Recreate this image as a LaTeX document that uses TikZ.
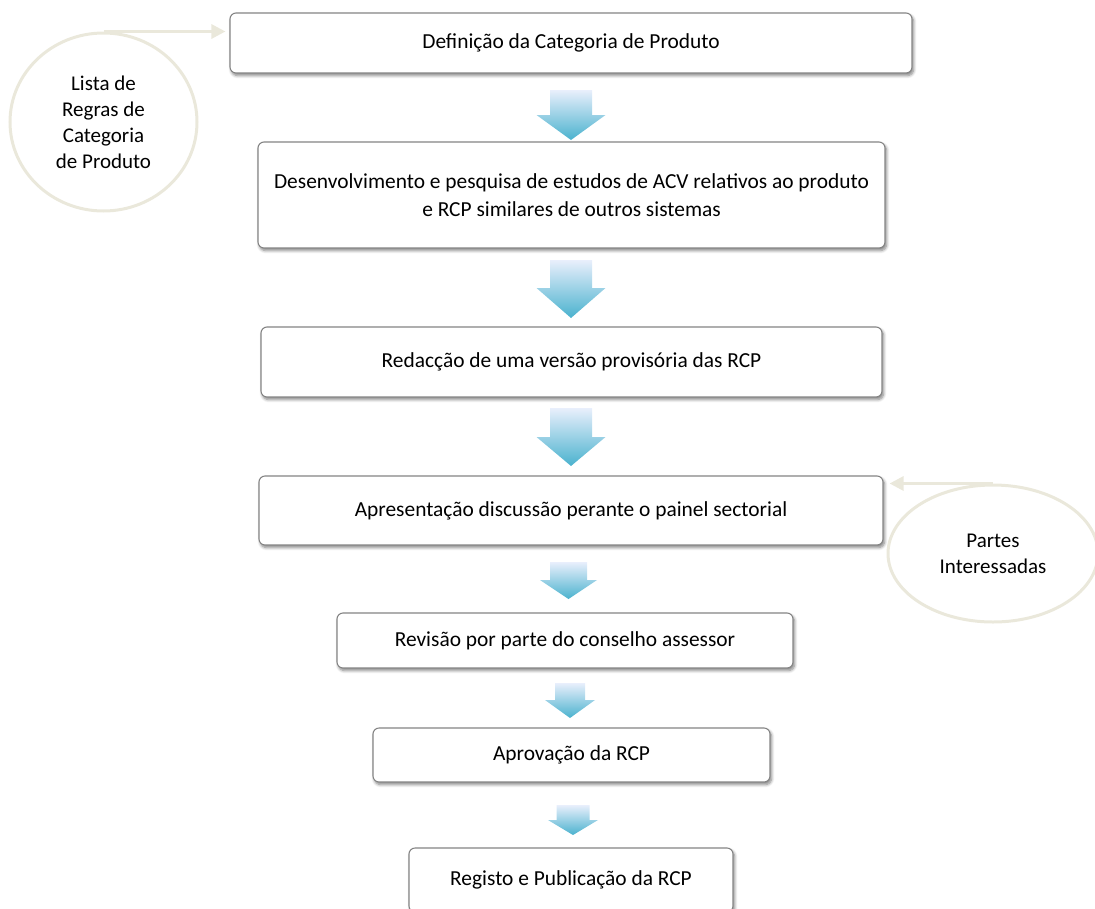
\documentclass[tikz,border=0pt]{standalone}
\usepackage{fontspec}
\setmainfont{Carlito}
\usetikzlibrary{shadows.blur,arrows.meta,calc,shapes.geometric}
\definecolor{boxline}{HTML}{858585}
\definecolor{beige}{HTML}{EAE8DB}
\definecolor{arrTop}{HTML}{E9EFFC}
\definecolor{arrMid}{HTML}{D8E5F7}
\definecolor{arrBot}{HTML}{4AB2CE}
\tikzset{
  stepbox/.style={draw=boxline, line width=1.1pt, fill=white, rounded corners=6pt,
    align=center, inner sep=0pt, font=\fontsize{21.4}{27.5}\selectfont,
    blur shadow={shadow xshift=1.5pt, shadow yshift=-2.5pt, shadow blur steps=6, shadow blur radius=3pt, shadow opacity=50}},
  inbubble/.style={draw=beige, line width=3pt, ellipse, fill=none, align=center,
    font=\fontsize{21}{26}\selectfont, inner sep=0pt},
  feed/.style={draw=beige, line width=3pt, -{Triangle[length=14pt,width=14pt]}},
}
\newcommand\blockarr[6]{%
  \shade[top color=arrTop, middle color=arrMid, bottom color=arrBot]
    (#1-#5,#2) -- (#1+#5,#2) -- (#1+#5,#3) -- (#1+#6,#3) -- (#1,#4) -- (#1-#6,#3) -- (#1-#5,#3) -- cycle;}
\begin{document}
\begin{tikzpicture}[x=1pt,y=-1pt]
\useasboundingbox (0,0) rectangle (1095,908);
\begin{scope}
\clip (0,0) rectangle (1095,908);
% boxes
\node[stepbox, minimum width=682pt, minimum height=60pt] (b1) at (571,43) {Definição da Categoria de Produto};
\node[stepbox, minimum width=627pt, minimum height=106pt] (b2) at (571.5,195) {Desenvolvimento e pesquisa de estudos de ACV relativos ao produto\\ e RCP similares de outros sistemas};
\node[stepbox, minimum width=621pt, minimum height=70pt] (b3) at (571.5,362) {Redacção de uma versão provisória das RCP};
\node[stepbox, minimum width=624pt, minimum height=69pt] (b4) at (571,510.5) {Apresentação discussão perante o painel sectorial};
\node[stepbox, minimum width=456pt, minimum height=55pt] (b5) at (565,640.5) {Revisão por parte do conselho assessor};
\node[stepbox, minimum width=397pt, minimum height=54pt] (b6) at (571.5,755) {Aprovação da RCP};
\node[stepbox, minimum width=324pt, minimum height=64pt] (b7) at (571,880) {Registo e Publicação da RCP};
% block arrows
\blockarr{571}{90}{115}{140}{21}{34.5}
\blockarr{571}{260}{288}{318}{21}{34.5}
\blockarr{571}{408}{437}{466}{21}{34.5}
\blockarr{568.5}{562}{580}{599}{18.5}{28.5}
\blockarr{570}{683}{700}{718}{15}{25}
\blockarr{573}{805}{820}{835}{16.5}{25}
% input bubbles
\node[inbubble, minimum width=187pt, minimum height=178pt] (e1) at (103.5,122) {Lista de\\Regras de\\Categoria\\de Produto};
\node[inbubble, minimum width=210pt, minimum height=137pt] (e2) at (993,553.5) {Partes\\Interessadas};
\draw[feed, shorten >=4pt] (e1.north) -- (e1.north -| b1.west);
\draw[feed, shorten >=6pt] (e2.north) -- (e2.north -| b4.east);
\end{scope}
\end{tikzpicture}
\end{document}
